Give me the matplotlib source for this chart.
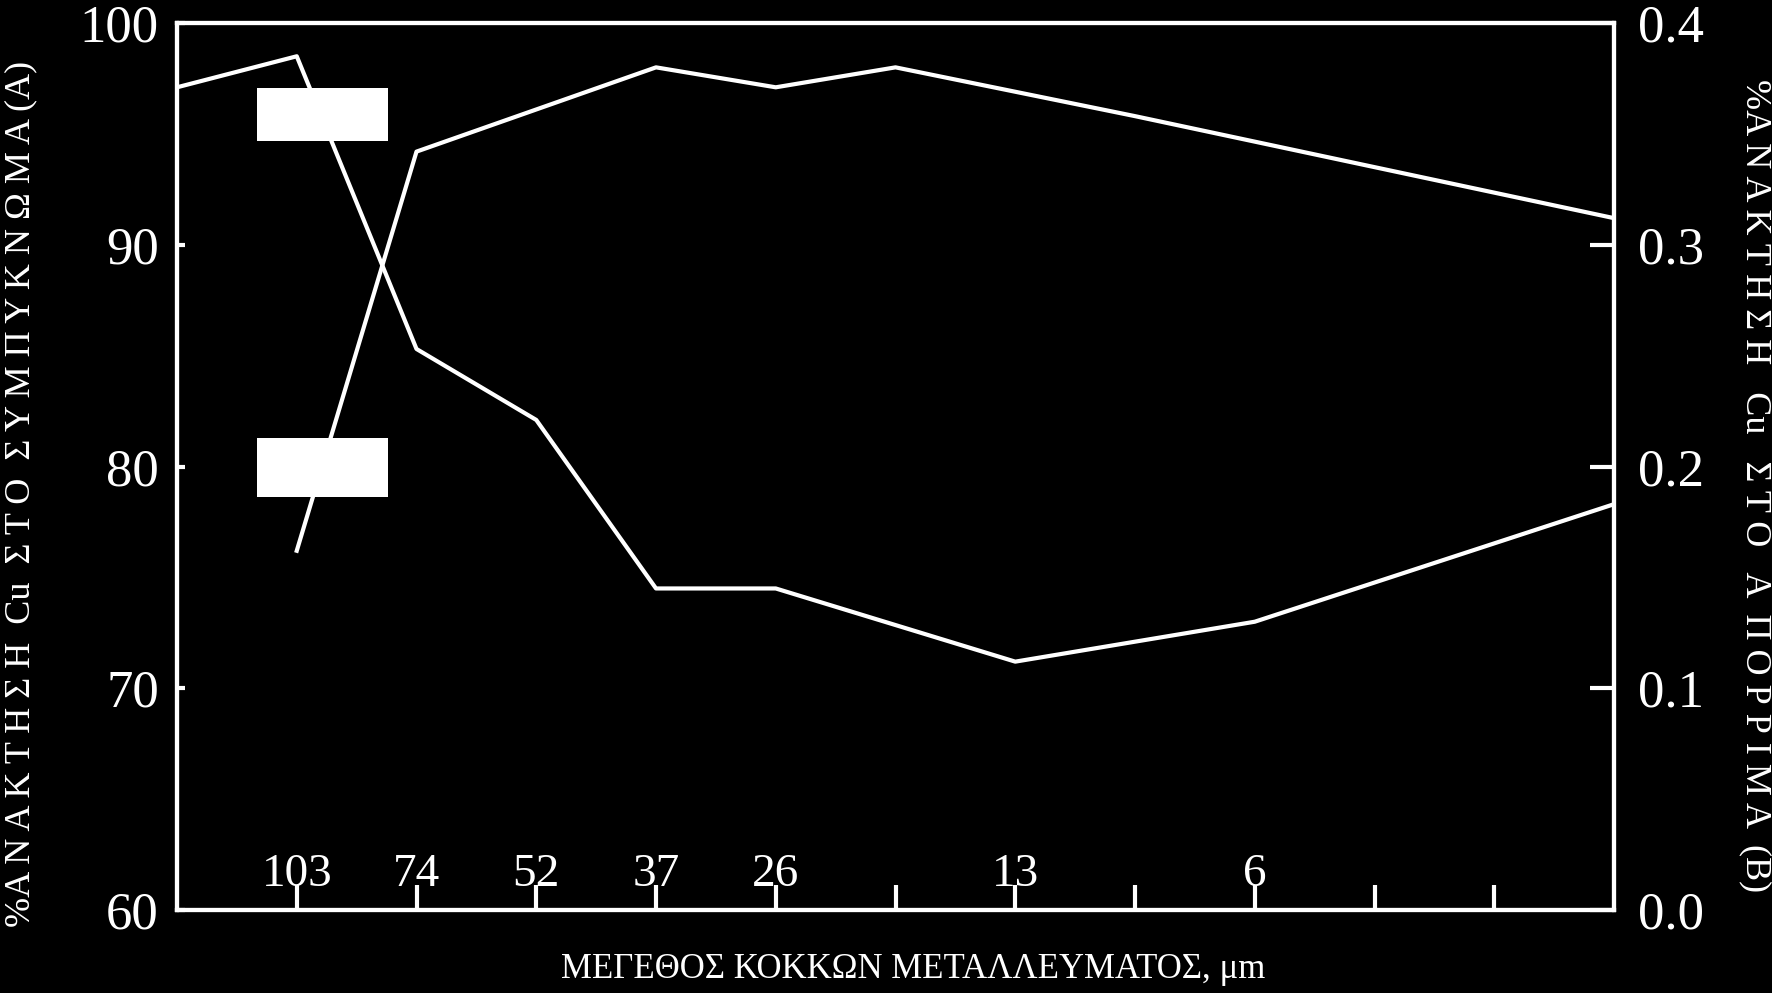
import matplotlib
matplotlib.use("Agg")
import matplotlib.pyplot as plt
from matplotlib.patches import Rectangle

plt.rcParams['font.family'] = ['Liberation Serif', 'DejaVu Serif']

# x-axis slots, labelled with grain size (μm)
tick_pos = [1, 2, 3, 4, 5, 6, 7, 8, 9, 10, 11]
tick_labels = ["103", "74", "52", "37", "26", "", "13", "", "6", "", ""]

# A: % Cu recovery in the concentrate (left axis)
x_A = [0, 1, 2, 3, 4, 5, 7, 9, 12]
rec_A = [97.1, 98.5, 85.3, 82.1, 74.5, 74.5, 71.2, 73.0, 78.3]

# B: % Cu recovery in the tailings (right axis)
x_B = [1, 2, 4, 5, 6, 8, 12]
rec_B = [0.162, 0.342, 0.380, 0.371, 0.380, 0.358, 0.312]

left_ticks = [60, 70, 80, 90, 100]
right_ticks = [0.0, 0.1, 0.2, 0.3, 0.4]

label_A = "%Α Ν Α Κ Τ Η Σ Η  Cu  Σ Τ Ο  Σ Υ Μ Π Υ Κ Ν Ω Μ Α (A)"
label_B = "%Α Ν Α Κ Τ Η Σ Η   Cu   Σ Τ Ο   Α  Π Ο Ρ Ρ Ι Μ Α  (B)"
label_x = "ΜΕΓΕΘΟΣ ΚΟΚΚΩΝ ΜΕΤΑΛΛΕΥΜΑΤΟΣ, μm"

W, H = 1772, 993
fig = plt.figure(figsize=(W / 100, H / 100), dpi=100, facecolor="black")
ax = fig.add_axes([177 / W, 1 - 910 / H, (1614 - 177) / W, (910 - 23) / H])
ax.set_facecolor("black")
ax2 = ax.twinx()

ax.plot(x_A, rec_A, color="white", lw=3)
ax2.plot(x_B, rec_B, color="white", lw=3)

ax.set_xlim(0, 12)
ax.set_ylim(60, 100)
ax2.set_ylim(0, 0.4)

ax.set_xticks(tick_pos)
ax.set_xticklabels(tick_labels)
ax.set_yticks(left_ticks)
ax.set_yticklabels([str(v) for v in left_ticks])
ax2.set_yticks(right_ticks)
ax2.set_yticklabels([f"{v:.1f}" for v in right_ticks])

for a in (ax, ax2):
    for s in a.spines.values():
        s.set_color("white")
        s.set_linewidth(3)

ax.tick_params(axis="x", direction="in", length=18, width=3, colors="white",
               labelsize=34, pad=-41)
ax.tick_params(axis="y", direction="in", length=6, width=3, colors="white",
               labelsize=38, pad=13)
ax2.tick_params(axis="y", direction="in", length=17, width=3, colors="white",
                labelsize=38, pad=17)

# white boxes next to the curves (legend placeholders)
for y0, h in [(0.867, 0.0597), (0.4656, 0.0665)]:
    ax2.add_patch(Rectangle((0.0557, y0), 0.0911, h, transform=ax2.transAxes,
                            facecolor="white", edgecolor="none", zorder=5))

fig.text(21 / W, 1 - 494 / H, label_A, rotation=90, ha="center", va="center",
         color="white", fontsize=26)
fig.text(1755 / W, 1 - 486 / H, label_B, rotation=-90, ha="center", va="center",
         color="white", fontsize=26)
fig.text(913 / W, 1 - 970 / H, label_x, ha="center", va="center",
         color="white", fontsize=25)

fig.savefig("out.png", dpi=100, facecolor="black")
